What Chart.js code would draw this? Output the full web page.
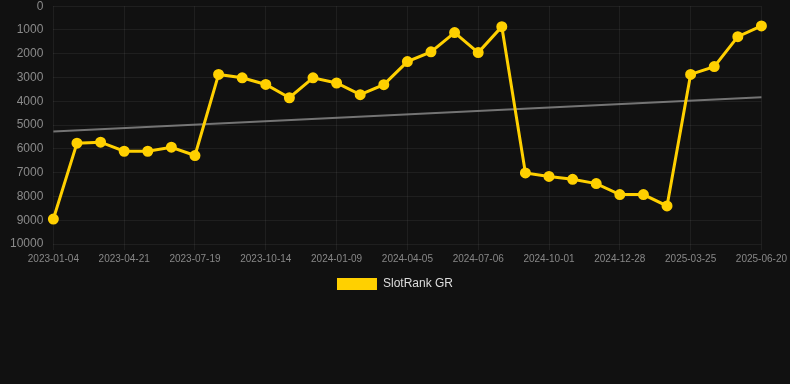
<!DOCTYPE html>
<html>
<head>
<meta charset="utf-8">
<script src="https://cdn.jsdelivr.net/npm/chart.js@4"></script>
<style>
  html, body { margin: 0; padding: 0; background: #111111; overflow: hidden; }
  #wrap { width: 790px; height: 311px; margin-top: -11px; }
</style>
</head>
<body>
<div id="wrap"><canvas id="rankChart"></canvas></div>
<script>
// Dates of each rank snapshot
const dates = [
  '2023-01-04', '2023-02-10', '2023-03-17', '2023-04-21', '2023-05-20', '2023-06-19',
  '2023-07-19', '2023-08-17', '2023-09-15', '2023-10-14', '2023-11-12', '2023-12-11',
  '2024-01-09', '2024-02-07', '2024-03-07', '2024-04-05', '2024-05-06', '2024-06-05',
  '2024-07-06', '2024-08-04', '2024-09-02', '2024-10-01', '2024-10-30', '2024-11-28',
  '2024-12-28', '2025-01-26', '2025-02-24', '2025-03-25', '2025-04-23', '2025-05-22',
  '2025-06-20'
];

// SlotRank GR values (lower is better)
const ranks = [
  8950, 5760, 5720, 6100, 6100, 5930,
  6280, 2870, 3010, 3290, 3850, 3010,
  3230, 3720, 3300, 2330, 1920, 1110,
  1950, 860, 7010, 7160, 7280, 7460,
  7920, 7920, 8400, 2870, 2540, 1280,
  830
];

// trend line, start and end value
const trendEnds = [5270, 3830];

const yTicks = [0, 1000, 2000, 3000, 4000, 5000, 6000, 7000, 8000, 9000, 10000];

const trendData = dates.map((d, i) => {
  if (i === 0) return trendEnds[0];
  if (i === dates.length - 1) return trendEnds[1];
  return null;
});

Chart.defaults.font.family = '"Liberation Sans", Arial, sans-serif';

new Chart(document.getElementById('rankChart'), {
  type: 'line',
  data: {
    labels: dates,
    datasets: [
      {
        label: 'SlotRank GR',
        data: ranks,
        borderColor: '#FFD000',
        backgroundColor: '#FFD000',
        borderWidth: 3,
        pointRadius: 4,
        pointHoverRadius: 5,
        tension: 0
      },
      {
        label: 'Trend',
        data: trendData,
        borderColor: 'rgba(150, 150, 150, 0.75)',
        borderWidth: 2,
        pointRadius: 0,
        spanGaps: true
      }
    ]
  },
  options: {
    responsive: true,
    maintainAspectRatio: false,
    animation: false,
    plugins: {
      legend: {
        position: 'bottom',
        labels: {
          color: '#dddddd',
          font: { size: 12 },
          boxWidth: 40,
          boxHeight: 12,
          generateLabels: chart => Chart.defaults.plugins.legend.labels.generateLabels(chart)
            .filter(item => item.text !== 'Trend')
            .map(item => Object.assign(item, { lineWidth: 0 }))
        }
      },
      tooltip: { enabled: false }
    },
    scales: {
      x: {
        grid: { color: 'rgba(255, 255, 255, 0.06)', tickLength: 6 },
        border: { display: false },
        ticks: {
          color: '#888888',
          font: { size: 10 },
          maxRotation: 0,
          autoSkip: false,
          callback: function (value, index) {
            return index % 3 === 0 ? this.getLabelForValue(value) : null;
          }
        }
      },
      y: {
        reverse: true,
        min: 0,
        max: 10000,
        afterBuildTicks: axis => { axis.ticks = yTicks.map(v => ({ value: v })); },
        grid: { color: 'rgba(255, 255, 255, 0.06)', drawTicks: false },
        border: { display: false },
        ticks: {
          color: '#8a8a8a',
          font: { size: 12 },
          padding: 10,
          callback: v => String(v)
        }
      }
    }
  }
});
</script>
</body>
</html>
